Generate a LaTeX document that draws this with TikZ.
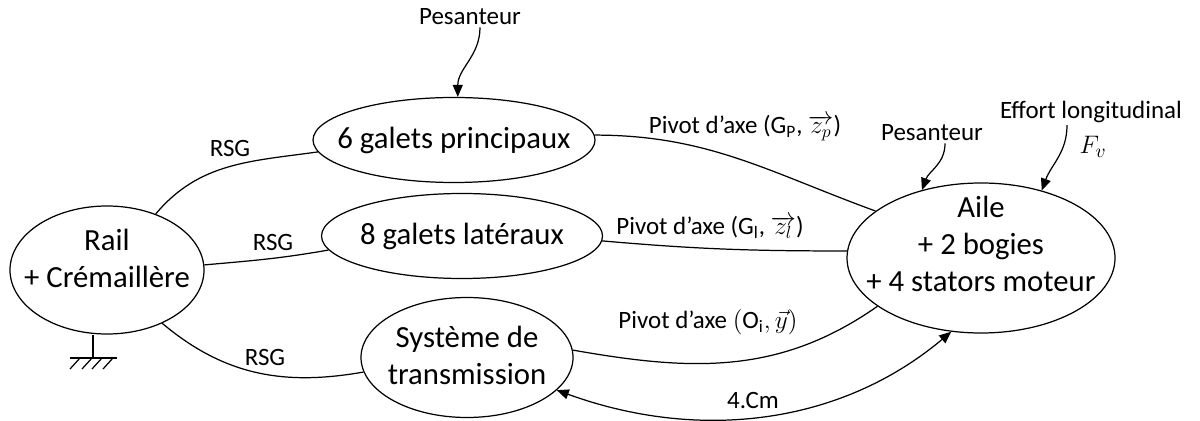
\documentclass[tikz,border=0pt]{standalone}
\usepackage{fontspec}
\setmainfont{Carlito}
\usetikzlibrary{shapes.geometric,arrows.meta}
\newcommand{\zeile}[1]{\makebox[0pt]{#1}}
\newcommand{\bloc}[2]{\makebox[0pt]{\raisebox{#1}[0pt][0pt]{%
    \begin{tabular}{@{}c@{}}#2\end{tabular}}}}

\begin{document}
\begin{tikzpicture}[line width=0.7pt,
    piece/.style={draw, ellipse, inner sep=0pt,
                  font=\fontsize{17.5}{21}\selectfont},
    marque/.style={inner sep=1pt, font=\fontsize{14.2}{16}\selectfont},
    effort/.style={-{Triangle[length=2.4mm,width=2mm]}}]
\useasboundingbox (0,0) rectangle (24,8.4);
% Rail + Bati
\node[piece, minimum width=3.88cm, minimum height=2.56cm] (rail) at (2.14,3.00)
    {\bloc{0.02cm}{Rail\\+ Crémaillère}};
\coordinate (bati) at (1.86,1.24);
\draw (rail.south -| bati) -- (bati);
\draw (1.40,1.24) -- (2.34,1.24);
\foreach \x in {1.60,1.84,2.04,2.26}
    \draw (\x,1.24) -- ++(-0.2,-0.22);
% Galets
\node[piece, minimum width=5.64cm, minimum height=1.70cm] (gp) at (9.08,5.60)
    {\zeile{6 galets principaux}};
\node[piece, minimum width=5.62cm, minimum height=1.70cm] (gl) at (9.24,3.68)
    {\zeile{8 galets latéraux}};
% Transmission
\node[piece, minimum width=4.24cm, minimum height=2.40cm] (sys) at (9.34,1.25)
    {\bloc{-0.17cm}{Système de\\transmission}};
% Aile
\node[piece, minimum width=5.36cm, minimum height=3.00cm] (aile) at (19.62,3.24)
    {\bloc{0.06cm}{Aile\\+ 2 bogies\\+ 4 stators moteur}};
% RSG
\draw (rail.49) to[out=50, in=188] (gp.185);
\node[marque] (rsg1) at (4.60,5.44) {RSG};
\draw (rail.3) to[out=5, in=190] (gl.186);
\node[marque] (rsg2) at (5.46,3.56) {RSG};
\draw (rail.-44) to[out=-40, in=190] (sys.188);
\node[marque] (rsg3) at (5.30,1.26) {RSG};
% Pivots
\draw (gp.2) to[out=0, in=160] (aile.156);
\node[marque] (pgp) at (14.90,5.84) {Pivot d’axe (G\textsubscript{P}, $\overrightarrow{z_p}$)};
\draw (gl.-2) to[out=-5, in=180] (aile.177);
\node[marque] (pgl) at (14.20,3.86) {Pivot d’axe (G\textsubscript{l}, $\overrightarrow{z_l}$)};
\draw (sys.4) to[out=-10, in=215] (aile.205);
\node[marque] (poi) at (14.16,1.96) {Pivot d’axe $(\mathrm{O_i}, \vec{y})$};
% Couple moteur
\draw[{Triangle[length=2.4mm,width=2mm]}-{Triangle[length=2.4mm,width=2mm]}]
    (sys.-20) to[out=-20, in=220, looseness=0.95] (aile.248);
\node[marque] (cm) at (15.06,0.40) {4.Cm};
% Actions exterieures
\node[marque] (pes1) at (9.40,8.06) {Pesanteur};
\draw[effort] ([xshift=0.2cm]pes1.south) to[out=-90, in=90] (gp.85);
\node[marque] (pes2) at (18.64,5.74) {Pesanteur};
\draw[effort] ([xshift=0.26cm]pes2.south) to[out=-90, in=70] (aile.131);
\node[marque] (efflong) at (21.82,6.16) {Effort longitudinal};
\node[marque, font=\fontsize{15}{16}\selectfont] (fv) at (21.86,5.46) {$F_v$};
\draw[effort] ([xshift=-0.48cm]efflong.south) to[out=-90, in=70] (aile.48);
\end{tikzpicture}
\end{document}
